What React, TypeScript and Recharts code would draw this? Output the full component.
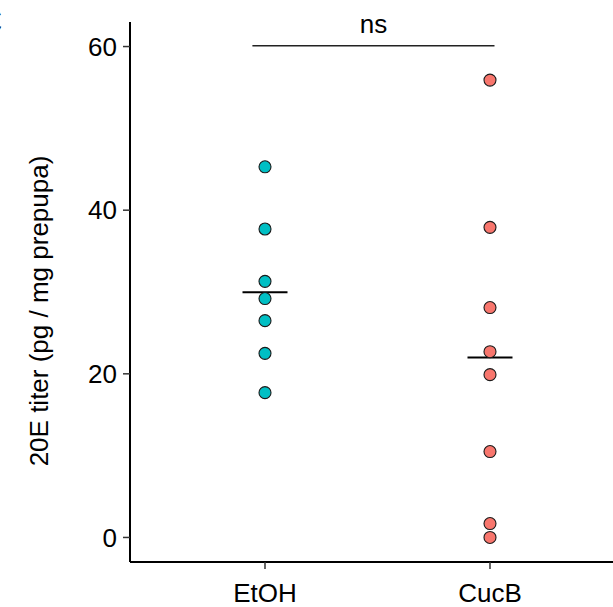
import React from 'react';
import { ScatterChart, Scatter, XAxis, YAxis, ReferenceLine } from 'recharts';

const groups = ['EtOH', 'CucB'];
const etohValues = [45.3, 37.7, 31.3, 29.2, 26.5, 22.5, 17.7];
const cucbValues = [55.9, 37.9, 28.1, 22.7, 19.9, 10.5, 1.7, 0];
const groupMeans = [29.96, 22.0];
const yTicks = [0, 20, 40, 60];
const sigLevel = 60.1;
const sigFrom = 0.944;
const sigTo = 2.02;
const sigLabel = 'ns';
const yTitle = '20E titer (pg / mg prepupa)';
const panelLetter = 'C';

const etohData = etohValues.map((y) => ({ x: 1, y }));
const cucbData = cucbValues.map((y) => ({ x: 2, y }));

const FONT = '"Liberation Sans", Arial, Helvetica, sans-serif';

const makeDot = (fill: string) => (props: any) => (
  <circle cx={props.cx} cy={props.cy} r={6} fill={fill} stroke="#1a1a1a" strokeWidth={1.1} />
);

const YTitle = () => (
  <g>
    <text
      transform="translate(39,311) rotate(-90)"
      textAnchor="middle"
      dominantBaseline="central"
      fontSize={26}
      fontFamily={FONT}
      fill="#000"
    >
      {yTitle}
    </text>
    <text x={2} y={34} textAnchor="end" fontSize={36} fontWeight="bold" fontFamily={FONT} fill="#000">
      {panelLetter}
    </text>
  </g>
);

export default function App() {
  return (
    <div style={{ position: 'absolute', left: 0, top: 0, width: 613, height: 607, overflow: 'hidden', background: '#fff' }}>
      <ScatterChart width={613} height={607} margin={{ top: 22, right: 0, bottom: 0, left: 0 }}>
        <XAxis
          type="number"
          dataKey="x"
          domain={[0.4, 2.5467]}
          ticks={[1, 2]}
          allowDataOverflow
          tickFormatter={(v: number) => groups[v - 1]}
          height={45}
          tickSize={7}
          tickMargin={15}
          axisLine={{ stroke: '#000', strokeWidth: 2 }}
          tickLine={{ stroke: '#333', strokeWidth: 1.5 }}
          tick={{ fill: '#000', fontSize: 26, fontFamily: FONT }}
        />
        <YAxis
          type="number"
          dataKey="y"
          domain={[-3, 63]}
          ticks={yTicks}
          allowDataOverflow
          width={130}
          tickSize={7}
          tickMargin={6}
          axisLine={{ stroke: '#000', strokeWidth: 2 }}
          tickLine={{ stroke: '#333', strokeWidth: 1.5 }}
          tick={{ fill: '#000', fontSize: 26, fontFamily: FONT }}
          label={{ content: () => <YTitle /> }}
        />
        <ReferenceLine
          segment={[{ x: sigFrom, y: sigLevel }, { x: sigTo, y: sigLevel }]}
          stroke="#222"
          strokeWidth={1.5}
          ifOverflow="visible"
          label={{ value: sigLabel, position: 'top', offset: 13, fill: '#000', fontSize: 26, fontFamily: FONT }}
        />
        <Scatter data={etohData} isAnimationActive={false} shape={makeDot('#00BFC4')} />
        <Scatter data={cucbData} isAnimationActive={false} shape={makeDot('#F8766D')} />
        <ReferenceLine
          segment={[{ x: 0.9, y: groupMeans[0] }, { x: 1.1, y: groupMeans[0] }]}
          stroke="#000"
          strokeWidth={2}
          ifOverflow="visible"
        />
        <ReferenceLine
          segment={[{ x: 1.9, y: groupMeans[1] }, { x: 2.1, y: groupMeans[1] }]}
          stroke="#000"
          strokeWidth={2}
          ifOverflow="visible"
        />
      </ScatterChart>
    </div>
  );
}
